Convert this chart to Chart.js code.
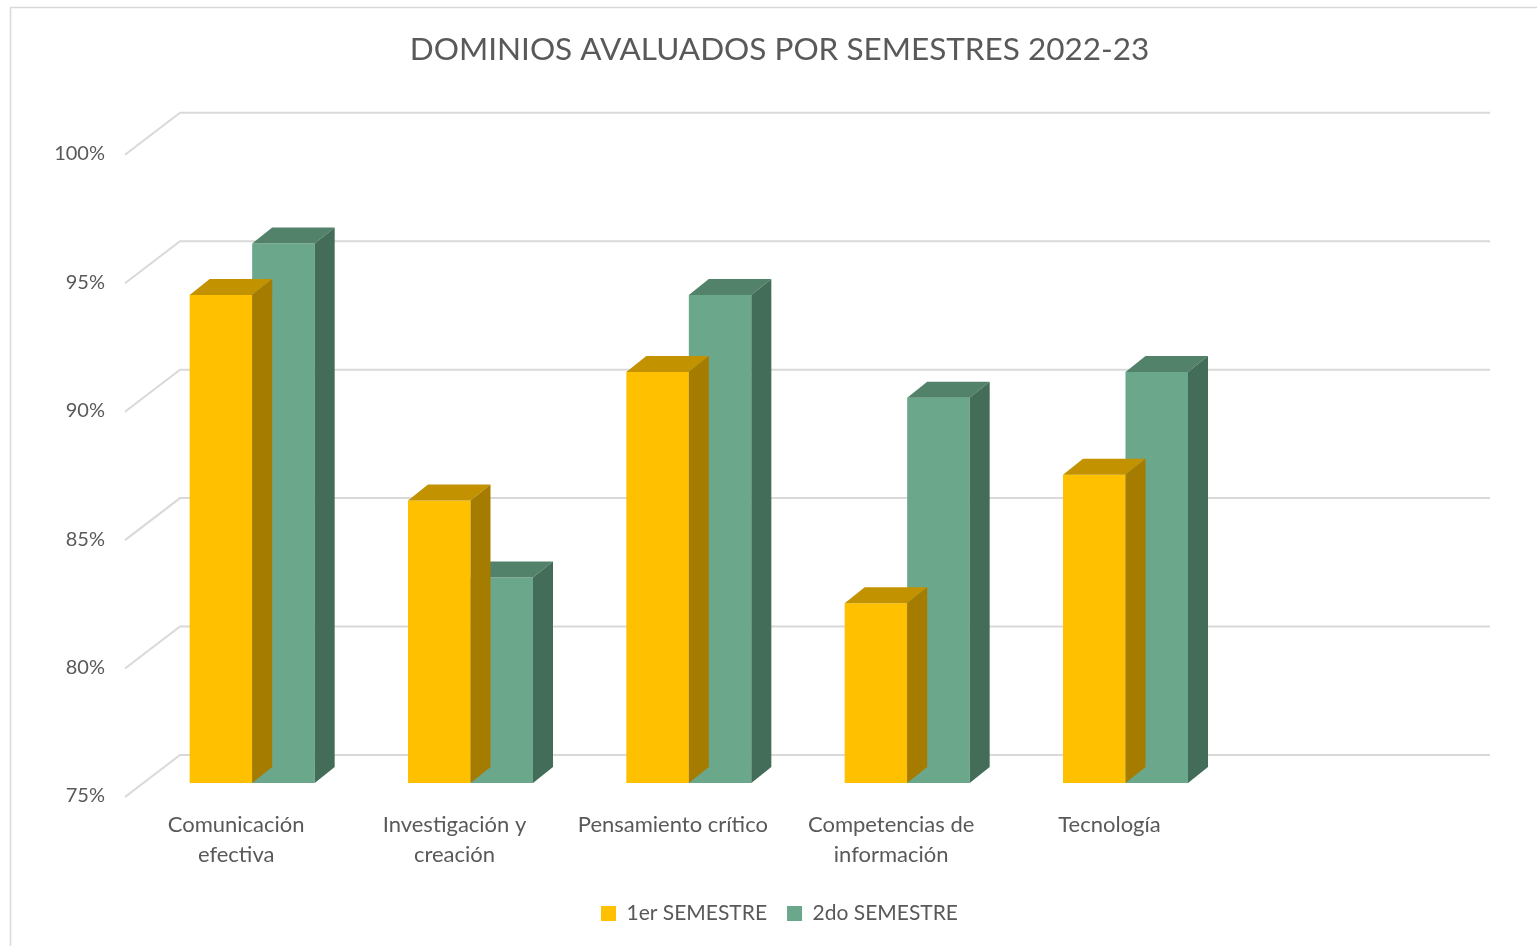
<!DOCTYPE html>
<html>
<head>
<meta charset="utf-8">
<script src="https://cdn.jsdelivr.net/npm/chart.js@4.4.0/dist/chart.umd.min.js"></script>
<style>
  html, body { margin: 0; padding: 0; background: #fff; }
  #wrap { width: 1537px; height: 946px; }
</style>
</head>
<body>
<div id="wrap"><canvas id="myBarGraph" width="1537" height="946"></canvas></div>
<script>
// datos
var categorias = [["Comunicación", "efectiva"], ["Investigación y", "creación"], "Pensamiento crítico", ["Competencias de", "información"], "Tecnología", ""];
var semestre1 = [94, 86, 91, 82, 87, null];
var semestre2 = [96, 83, 94, 90, 91, null];
var ticksY = [75, 80, 85, 90, 95, 100];

var colores = {
  s1: { front: "#FFC000", top: "#C39200", side: "#A67C00" },
  s2: { front: "#6BA78A", top: "#52836A", side: "#436C59" }
};
var fuente = "Lato, 'Open Sans', sans-serif";
var gris = "#595959";

// desplazamientos de la vista 3d
var barDX = 20, barDY = -16;
var wallDX = 37, wallDY = -28;
var floorDX = -18, floorDY = 14;

var efecto3d = {
  id: "efecto3d",
  beforeDraw: function(chart) {
    var c = chart.ctx;
    c.save();
    c.fillStyle = "#fff";
    c.fillRect(0, 0, chart.width, chart.height);
    c.strokeStyle = "#d9d9d9";
    c.lineWidth = 1.5;
    c.strokeRect(10.5, 7.5, 1600, 1000);
    c.restore();
  },
  beforeDatasetsDraw: function(chart) {
    var c = chart.ctx;
    var area = chart.chartArea;
    var y = chart.scales.y;
    c.save();
    c.strokeStyle = "#d9d9d9";
    c.lineWidth = 2;
    ticksY.forEach(function(v) {
      var py = y.getPixelForValue(v);
      c.beginPath();
      c.moveTo(area.left + floorDX, py + floorDY);
      c.lineTo(area.left + wallDX, py + wallDY);
      c.lineTo(area.right + wallDX, py + wallDY);
      c.stroke();
    });
    c.restore();
  },
  afterDatasetDraw: function(chart, args) {
    var c = chart.ctx;
    var col = args.index == 0 ? colores.s1 : colores.s2;
    var valores = chart.data.datasets[args.index].data;
    var base = chart.scales.y.getPixelForValue(ticksY[0]);
    c.save();
    args.meta.data.forEach(function(bar, i) {
      if (valores[i] == null) return;
      var l = bar.x - bar.width / 2;
      var r = bar.x + bar.width / 2;
      var t = bar.y;
      var b = base;
      // cara superior
      c.fillStyle = col.top;
      c.beginPath();
      c.moveTo(l, t);
      c.lineTo(r, t);
      c.lineTo(r + barDX, t + barDY);
      c.lineTo(l + barDX, t + barDY);
      c.closePath();
      c.fill();
      // cara lateral
      c.fillStyle = col.side;
      c.beginPath();
      c.moveTo(r, t);
      c.lineTo(r + barDX, t + barDY);
      c.lineTo(r + barDX, b + barDY);
      c.lineTo(r, b);
      c.closePath();
      c.fill();
    });
    c.restore();
  }
};

var ctx = document.getElementById("myBarGraph").getContext("2d");
var myBarGraph = new Chart(ctx, {
  type: "bar",
  data: {
    labels: categorias,
    datasets: [
      {
        label: "1er SEMESTRE",
        data: semestre1,
        base: ticksY[0],
        backgroundColor: colores.s1.front,
        borderWidth: 0,
        categoryPercentage: 0.5726,
        barPercentage: 1
      },
      {
        label: "2do SEMESTRE",
        data: semestre2,
        base: ticksY[0],
        backgroundColor: colores.s2.front,
        borderWidth: 0,
        categoryPercentage: 0.5726,
        barPercentage: 1
      }
    ]
  },
  options: {
    responsive: false,
    animation: false,
    layout: { padding: { left: 22, right: 0, top: 0, bottom: 12 } },
    plugins: {
      title: {
        display: true,
        text: "DOMINIOS AVALUADOS POR SEMESTRES 2022-23",
        color: gris,
        font: { family: fuente, size: 31.5, weight: "normal", lineHeight: 1.2 },
        padding: { top: 31, bottom: 72 }
      },
      legend: {
        display: true,
        position: "bottom",
        labels: {
          boxWidth: 15,
          boxHeight: 15,
          padding: 20,
          color: gris,
          font: { family: fuente, size: 21 }
        }
      },
      tooltip: { enabled: false }
    },
    scales: {
      x: {
        grid: { display: false, drawTicks: false },
        border: { display: false },
        ticks: {
          color: gris,
          font: { family: fuente, size: 22, lineHeight: 1.36 },
          padding: 27,
          labelOffset: -16,
          maxRotation: 0,
          autoSkip: false
        },
        afterFit: function(s) { s.height = 100; }
      },
      y: {
        min: 75,
        max: 100,
        grid: { display: false, drawTicks: false },
        border: { display: false },
        ticks: {
          stepSize: 5,
          color: gris,
          font: { family: fuente, size: 20 },
          padding: 38,
          labelOffset: 13,
          callback: function(v) { return v + "%"; }
        },
        afterFit: function(s) { s.width = 121; }
      },
      yR: {
        type: "linear",
        position: "right",
        display: true,
        grid: { display: false },
        border: { display: false },
        ticks: { display: false },
        afterFit: function(s) { s.width = 84; }
      }
    }
  },
  plugins: [efecto3d]
});
</script>
</body>
</html>
